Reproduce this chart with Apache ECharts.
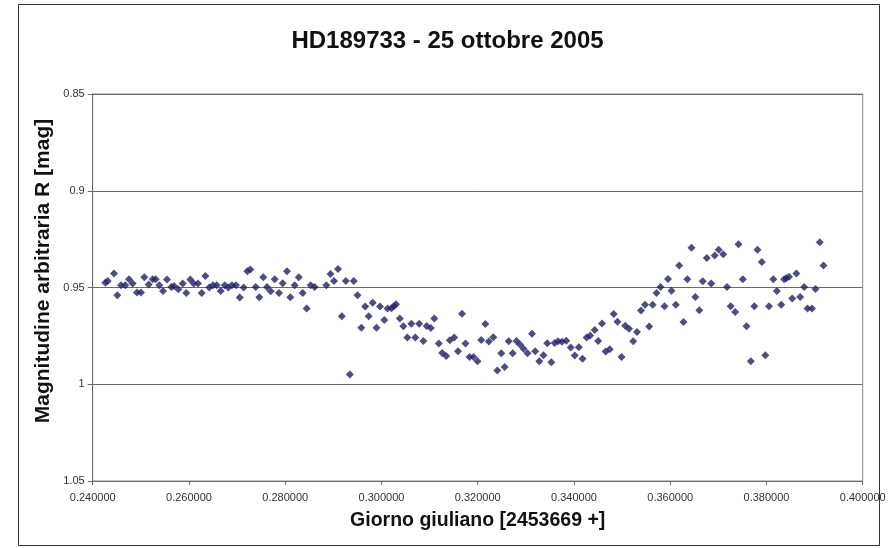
<!DOCTYPE html>
<html>
<head>
<meta charset="utf-8">
<script src="https://cdn.jsdelivr.net/npm/echarts@6/dist/echarts.min.js"></script>
<style>html,body{margin:0;padding:0;background:#fff}#c{width:895px;height:548px}</style>
</head>
<body>
<div id="c"></div>
<script>
const titleText = 'HD189733 - 25 ottobre 2005';
const xAxisName = 'Giorno giuliano [2453669 +]';
const yAxisName = 'Magnitudine arbitraria R [mag]';
const jd = [0.24262,0.24312,0.24443,0.24511,0.24588,0.24677,0.24754,0.24831,0.24921,0.25004,
0.25072,0.25164,0.25247,0.25309,0.25384,0.25461,0.25544,0.25633,0.25689,0.25779,
0.25870,0.25945,0.26028,0.26099,0.26188,0.26265,0.26340,0.26423,0.26500,0.26577,
0.26660,0.26743,0.26818,0.26895,0.26978,0.27055,0.27138,0.27213,0.27275,0.27387,
0.27462,0.27545,0.27622,0.27699,0.27782,0.27871,0.27948,0.28037,0.28106,0.28197,
0.28281,0.28364,0.28447,0.28530,0.28613,0.28854,0.28941,0.29014,0.29097,0.29176,
0.29259,0.29342,0.29425,0.29502,0.29581,0.29662,0.29735,0.29818,0.29897,0.29970,
0.30059,0.30126,0.30209,0.30257,0.30302,0.30381,0.30454,0.30537,0.30620,0.30703,
0.30784,0.30870,0.30940,0.31026,0.31098,0.31192,0.31262,0.31345,0.31420,0.31512,
0.31591,0.31674,0.31747,0.31830,0.31913,0.31996,0.32073,0.32158,0.32231,0.32324,
0.32407,0.32490,0.32561,0.32644,0.32727,0.32806,0.32879,0.32952,0.33035,0.33128,
0.33195,0.33280,0.33367,0.33446,0.33529,0.33600,0.33669,0.33752,0.33841,0.33933,
0.34016,0.34101,0.34178,0.34265,0.34338,0.34431,0.34504,0.34583,0.34660,0.34743,
0.34826,0.34905,0.34988,0.35065,0.35144,0.35231,0.35310,0.35393,0.35476,0.35564,
0.35636,0.35715,0.35798,0.35882,0.35954,0.36027,0.36116,0.36187,0.36276,0.36355,
0.36443,0.36522,0.36605,0.36677,0.36761,0.36852,0.36925,0.37008,0.37101,0.37180,
0.37257,0.37351,0.37419,0.37509,0.37585,0.37675,0.37748,0.37814,0.37903,0.37976,
0.38053,0.38142,0.38215,0.38307,0.38369,0.38412,0.38469,0.38535,0.38620,0.38701,
0.38784,0.38853,0.38947,0.39019,0.39109,0.39186];
const mag = [0.9476,0.9467,0.9428,0.9540,0.9488,0.9488,0.9457,0.9479,0.9526,0.9526,
0.9447,0.9484,0.9457,0.9457,0.9488,0.9518,0.9459,0.9498,0.9492,0.9509,
0.9479,0.9528,0.9459,0.9479,0.9479,0.9528,0.9440,0.9500,0.9488,0.9488,
0.9518,0.9488,0.9500,0.9488,0.9488,0.9552,0.9500,0.9416,0.9407,0.9498,
0.9550,0.9447,0.9498,0.9519,0.9457,0.9528,0.9478,0.9416,0.9550,0.9488,
0.9447,0.9528,0.9609,0.9488,0.9498,0.9488,0.9430,0.9467,0.9405,0.9648,
0.9467,0.9950,0.9467,0.9540,0.9708,0.9598,0.9648,0.9579,0.9708,0.9598,
0.9668,0.9609,0.9607,0.9597,0.9586,0.9660,0.9700,0.9759,0.9687,0.9759,
0.9687,0.9777,0.9699,0.9709,0.9660,0.9789,0.9838,0.9854,0.9773,0.9758,
0.9829,0.9636,0.9789,0.9859,0.9859,0.9881,0.9771,0.9688,0.9779,0.9757,
0.9929,0.9840,0.9911,0.9778,0.9840,0.9776,0.9795,0.9816,0.9840,0.9739,
0.9829,0.9881,0.9850,0.9788,0.9886,0.9787,0.9778,0.9780,0.9775,0.9810,
0.9851,0.9809,0.9868,0.9758,0.9748,0.9719,0.9777,0.9686,0.9831,0.9819,
0.9637,0.9677,0.9859,0.9698,0.9713,0.9778,0.9730,0.9619,0.9589,0.9701,
0.9589,0.9528,0.9497,0.9597,0.9456,0.9517,0.9589,0.9386,0.9678,0.9457,
0.9294,0.9549,0.9618,0.9468,0.9347,0.9479,0.9334,0.9305,0.9328,0.9497,
0.9597,0.9626,0.9277,0.9457,0.9700,0.9881,0.9597,0.9305,0.9368,0.9850,
0.9597,0.9457,0.9518,0.9589,0.9457,0.9452,0.9445,0.9557,0.9428,0.9549,
0.9498,0.9609,0.9609,0.9508,0.9266,0.9386];
const xTicks = {min: 0.24, max: 0.40, step: 0.02};
const yTicks = {min: 0.85, max: 1.05, step: 0.05};

const points = jd.map((x, i) => [x, mag[i]]);
const chart = echarts.init(document.getElementById('c'));
const gridColor = '#6e6a5e';
chart.setOption({
  backgroundColor: '#ffffff',
  animation: false,
  title: {
    text: titleText, left: 'center', top: 24,
    textStyle: {fontFamily: 'Liberation Sans, Arial', fontWeight: 'bold', fontSize: 24, color: '#111'}
  },
  grid: {left: 92.7, right: 32.3, top: 94, bottom: 67, show: true, borderColor: '#8a8a8a', borderWidth: 1},
  graphic: [{
    type: 'rect', shape: {x: 18.5, y: 4.5, width: 861, height: 541},
    style: {fill: 'none', stroke: '#333', lineWidth: 1}, silent: true, z: -1
  }, {
    type: 'text', x: 43, y: 271, rotation: Math.PI / 2, silent: true,
    style: {
      text: yAxisName, fill: '#111',
      font: 'bold 21px "Liberation Sans", Arial',
      align: 'center', verticalAlign: 'middle',
      textAlign: 'center', textVerticalAlign: 'middle'
    }
  }],
  xAxis: {
    type: 'value', position: 'bottom',
    min: xTicks.min, max: xTicks.max, interval: xTicks.step,
    name: xAxisName, nameLocation: 'middle', nameGap: 30,
    nameTextStyle: {fontFamily: 'Liberation Sans, Arial', fontWeight: 'bold', fontSize: 19.5, color: '#111'},
    axisLine: {onZero: false, lineStyle: {color: gridColor, width: 1}},
    axisTick: {show: true, length: 4, inside: false, lineStyle: {color: gridColor}},
    splitLine: {show: false},
    axisLabel: {
      margin: 11, fontFamily: 'Liberation Sans, Arial', fontSize: 11, color: '#333',
      formatter: v => v.toFixed(6)
    }
  },
  yAxis: {
    type: 'value', inverse: true,
    min: yTicks.min, max: yTicks.max, interval: yTicks.step,
    axisLine: {show: true, onZero: false, lineStyle: {color: gridColor, width: 1}},
    axisTick: {show: true, length: 5, inside: false, lineStyle: {color: gridColor}},
    splitLine: {show: true, lineStyle: {color: gridColor, width: 1}},
    axisLabel: {
      margin: 8, fontFamily: 'Liberation Sans, Arial', fontSize: 11, color: '#333',
      formatter: v => String(parseFloat(v.toFixed(2)))
    }
  },
  series: [{
    type: 'scatter', data: points, symbol: 'diamond', symbolSize: 8,
    itemStyle: {color: '#1f2068'}
  }]
});
</script>
</body>
</html>
